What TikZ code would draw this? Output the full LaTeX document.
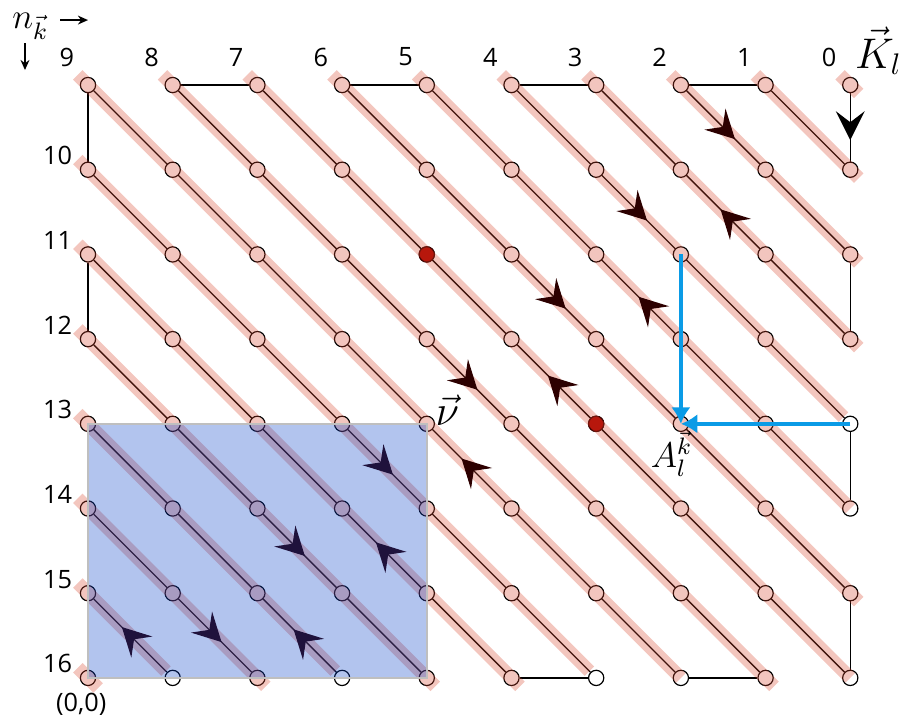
\documentclass[tikz,border=0pt]{standalone}
\usepackage{fontspec}
\setsansfont{Open Sans}
\usepackage{tikz}
\usetikzlibrary{arrows.meta,calc,backgrounds,decorations.markings}

\definecolor{bandred}{RGB}{215,65,40}
\definecolor{dotred}{RGB}{170,5,0}
\definecolor{tipdark}{RGB}{45,0,0}
\definecolor{boxblue}{RGB}{0,60,200}
\definecolor{pathblue}{RGB}{10,155,230}

\begin{document}
\begin{tikzpicture}[
  x=1cm,y=1cm,
  site/.style={circle, draw, fill=white, minimum size=1.8mm, inner sep=0pt, line width=0.4pt},
  hot/.style={site, fill=dotred, draw=black!60!dotred},
  link/.style={line width=0.45pt},
  band/.style={line width=4.5pt, draw=bandred, draw opacity=0.3},
  fwd/.style={postaction={decorate}, decoration={markings, mark=at position #1 with {\arrow{Stealth[length=9.5pt,width=10pt,inset=3.7pt,color=tipdark]}}}},
  bwd/.style={postaction={decorate}, decoration={markings, mark=at position #1 with {\arrowreversed{Stealth[length=9.5pt,width=10pt,inset=3.7pt,color=tipdark]}}}},
  drop/.style={postaction={decorate}, decoration={markings, mark=at position #1 with {\arrow{Stealth[length=9.7pt,width=9.7pt,inset=3.7pt,color=black]}}}},
  push/.style={-{Latex[length=5.5pt,width=6.5pt]}, line width=1.35pt, draw=pathblue, color=pathblue},
  axis/.style={-{Stealth[length=3.4pt,width=3pt]}, line width=0.5pt},
  num/.style={font=\sffamily\fontsize{8.5}{10}\selectfont, inner sep=0pt}
]
\useasboundingbox (-1.039,-7.45) rectangle (9.599,1.004);

% lattice sites
\foreach \i in {0,...,9}
  \foreach \j in {0,...,7}
    \node[site] (p\i\j) at (\i,-\j) {};
\node[hot] (r42) at (p42) {};
\node[hot] (r64) at (p64) {};

% snake path
\begin{pgfonlayer}{background}
\foreach \d in {-6,...,8}{
  \pgfmathtruncatemacro\ia{max(\d,0)}
  \pgfmathtruncatemacro\ja{max(-(\d),0)}
  \pgfmathtruncatemacro\len{min(9-\ia,7-\ja)}
  \pgfmathtruncatemacro\ib{\ia+\len}
  \pgfmathtruncatemacro\jb{\ja+\len}
  \draw[link] (p\ia\ja) -- (p\ib\jb);
}
\foreach \a/\b in {p80/p70,p60/p50,p40/p30,p20/p10,p90/p91,p92/p93,p94/p95,p96/p97,
                   p00/p01,p02/p03,p04/p05,p06/p07,p87/p77,p67/p57,p47/p37,p27/p17}
  \draw[link] (\a) -- (\b);
\end{pgfonlayer}

% highlighted diagonals
\foreach \d/\e in {9/0.1,8/0.1,7/0.1,6/0.1,5/-0.08,4/0,3/0.1,2/0,1/0.1,0/0,
                   -1/-0.08,-2/0.1,-3/0.1,-4/-0.08,-5/0.1,-6/-0.08,-7/0.12}{
  \pgfmathtruncatemacro\ia{max(\d,0)}
  \pgfmathtruncatemacro\ja{max(-(\d),0)}
  \pgfmathtruncatemacro\len{min(9-\ia,7-\ja)}
  \pgfmathtruncatemacro\ib{\ia+\len}
  \pgfmathtruncatemacro\jb{\ja+\len}
  \draw[band] ($(p\ia\ja.center)+(-0.12,0.12)$) -- ($(p\ib\jb.center)+(\e,-\e)$);
}

% direction marks
\path[drop=0.65] (p90.center) -- (p91.center);
\foreach \a/\b/\t in {p70/p92/0.32,p50/p94/0.40,p30/p96/0.44,p10/p87/0.514,
                      p01/p67/0.60,p03/p47/0.64,p05/p27/0.79}
  \path[fwd=\t] (\a.center) -- (\b.center);
\foreach \a/\b/\t in {p60/p93/0.49,p40/p95/0.50,p20/p97/0.49,p00/p77/0.63,
                      p02/p57/0.68,p04/p37/0.81,p06/p17/0.40}
  \path[bwd=\t] (\a.center) -- (\b.center);

% shaded block
\path[fill=boxblue, fill opacity=0.3, draw=black!25, line width=0.5pt] (p04.center) rectangle (p47.center);

\draw[push] (p72.center) -- (p74.center);
\draw[push] (p94.center) -- (p74.center);

% labels
\foreach \i in {0,...,9}{
  \pgfmathtruncatemacro\n{9-\i}
  \node[num] (c\i) at ($(p\i0.center)+(-0.25,0.33)$) {\n};
}
\foreach \j in {1,...,7}{
  \pgfmathtruncatemacro\n{9+\j}
  \node[num, anchor=east] (w\j) at ($(p0\j.center)+(-0.18,0.165)$) {\n};
}
\node[num] (orig) at ($(p07.center)+(-0.08,-0.31)$) {(0,0)};

\node[anchor=base west, inner sep=0pt, font=\fontsize{12}{14}\selectfont] (nk) at (-0.9,0.673) {$n_{\vec{k}}$};
\coordinate (nr0) at (-0.33,0.767);
\coordinate (nr1) at (0,0.767);
\coordinate (nd0) at (-0.744,0.496);
\coordinate (nd1) at (-0.744,0.177);
\draw[axis] (nr0) -- (nr1);
\draw[axis] (nd0) -- (nd1);

\node[anchor=base west, inner sep=0pt, font=\fontsize{14}{16}\selectfont] (Kl) at (9.05,0.2) {$\vec{K}_l$};
\node[anchor=base west, inner sep=0pt, font=\fontsize{14}{16}\selectfont] (nu) at (4.097,-4.014) {$\vec{\nu}$};
\node[anchor=base west, inner sep=0pt, font=\fontsize{12}{14}\selectfont] (Alk) at (6.64,-4.52) {$A_l^{\vec{k}}$};
\end{tikzpicture}
\end{document}
